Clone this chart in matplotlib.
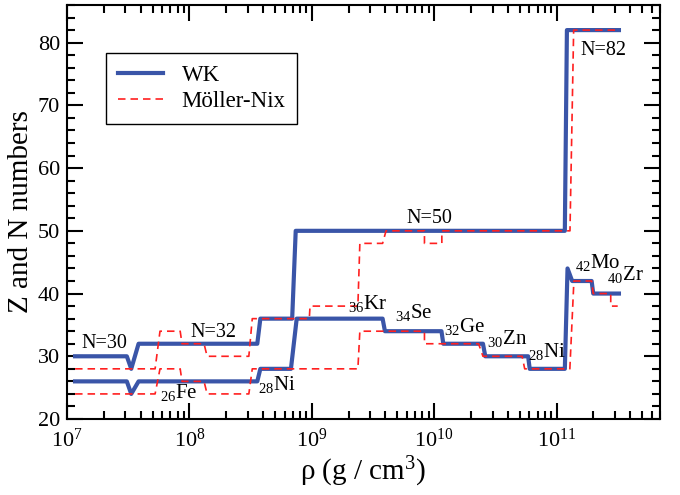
import numpy as np
import matplotlib
matplotlib.use("Agg")
import matplotlib.pyplot as plt
from matplotlib.ticker import LogLocator, MultipleLocator, NullFormatter

plt.rcParams["font.family"] = ["Liberation Serif", "DejaVu Serif"]
plt.rcParams["mathtext.fontset"] = "custom"
plt.rcParams["mathtext.rm"] = "Liberation Serif"
plt.rcParams["mathtext.it"] = "Liberation Serif:italic"

# step curves: log10(rho) vertices and Z / N values
wk_z_logrho = [7.066, 7.489, 7.525, 7.585, 8.555, 8.58, 8.83, 8.877, 9.579, 9.598,
               10.06, 10.075, 10.399, 10.418, 10.768, 10.781, 11.068, 11.09, 11.128,
               11.287, 11.30, 11.51]
wk_z = [26, 26, 24, 26, 26, 28, 28, 36, 36, 34, 34, 32, 32, 30, 30, 28, 28, 44, 42,
        42, 40, 40]

wk_n_logrho = [7.066, 7.489, 7.525, 7.585, 8.555, 8.58, 8.84, 8.869, 11.068, 11.085, 11.51]
wk_n = [30, 30, 28, 32, 32, 36, 36, 50, 50, 82, 82]

mn_z_logrho = [7.066, 7.72, 7.76, 7.925, 7.94, 8.12, 8.145, 8.486, 8.514, 9.377, 9.393,
               9.921, 9.921, 10.363, 10.399, 10.719, 10.74, 11.109, 11.142, 11.287,
               11.30, 11.443, 11.443, 11.50]
mn_z = [24, 24, 28, 28, 26, 26, 24, 24, 28, 28, 34, 34, 32, 32, 30, 30, 28, 28, 42, 42,
        40, 40, 38, 38]

mn_n_logrho = [7.066, 7.72, 7.76, 7.925, 7.94, 8.12, 8.145, 8.486, 8.514, 8.98, 8.986,
               9.377, 9.393, 9.579, 9.607, 9.921, 9.921, 10.063, 10.063, 11.11, 11.14,
               11.51]
mn_n = [28, 28, 34, 34, 32, 32, 30, 30, 36, 36, 38, 38, 48, 48, 50, 50, 48, 48, 50, 50,
        82, 82]

# nucleus labels: (log10 rho, value, Z subscript, symbol)
nuclei = [(7.760, 23.35, "26", "Fe"), (8.560, 24.63, "28", "Ni"),
          (9.296, 37.5, "36", "Kr"), (9.680, 36.1, "34", "Se"),
          (10.080, 33.92, "32", "Ge"), (10.434, 31.91, "30", "Zn"),
          (10.769, 29.94, "28", "Ni"), (11.150, 44.03, "42", "Mo"),
          (11.415, 42.17, "40", "Zr")]
magic = [(7.120, 31.28, "N=30"), (8.005, 33.13, "N=32"),
         (9.770, 51.26, "N=50"), (11.197, 78.05, "N=82")]

blue = "#3a55a8"
red = "#ff2020"

fig = plt.figure(figsize=(6.8, 4.95), dpi=100)
ax = fig.add_axes([0.0985, 0.1535, 0.872, 0.8364])

ax.plot(10 ** np.array(wk_z_logrho), wk_z, color=blue, lw=3, label="WK")
ax.plot(10 ** np.array(wk_n_logrho), wk_n, color=blue, lw=3)
ax.plot(10 ** np.array(mn_z_logrho), mn_z, color=red, lw=1.2, dashes=(4.5, 3),
        label="Möller-Nix")
ax.plot(10 ** np.array(mn_n_logrho), mn_n, color=red, lw=1.2, dashes=(4.5, 3))

for lx, y, sub, sym in nuclei:
    ax.text(10 ** lx, y, r"$_{\mathrm{%s}}$%s" % (sub, sym), fontsize=15,
            va="baseline", ha="left")
for lx, y, s in magic:
    ax.text(10 ** lx, y, s, fontsize=14.5, va="baseline", ha="left")

ax.set_xscale("log")
ax.set_xlim(1e7, 7e11)
ax.set_ylim(20, 86)
ax.yaxis.set_major_locator(MultipleLocator(10))
ax.yaxis.set_minor_locator(MultipleLocator(2))
ax.xaxis.set_major_locator(LogLocator(base=10))
ax.xaxis.set_minor_locator(LogLocator(base=10, subs=np.arange(2, 10)))
ax.xaxis.set_minor_formatter(NullFormatter())

ax.tick_params(which="both", direction="in", top=True, right=True, width=1.5)
ax.tick_params(which="major", length=11.5, labelsize=16, pad=5)
ax.tick_params(axis="x", which="major", pad=7)
ax.tick_params(which="minor", length=6)
for sp in ax.spines.values():
    sp.set_linewidth(1.5)

ax.set_xlabel(r"ρ (g / cm$^3$)", fontsize=21, labelpad=2)
ax.set_ylabel("Z and N numbers", fontsize=21, labelpad=3)

leg = ax.legend(loc="upper left", bbox_to_anchor=(0.066, 0.884), borderaxespad=0,
                fontsize=16.5, fancybox=False, framealpha=1, edgecolor="black",
                handlelength=2.0, borderpad=0.5, labelspacing=0.25)
leg.get_frame().set_linewidth(1.0)

fig.savefig("out.png", dpi=100)
